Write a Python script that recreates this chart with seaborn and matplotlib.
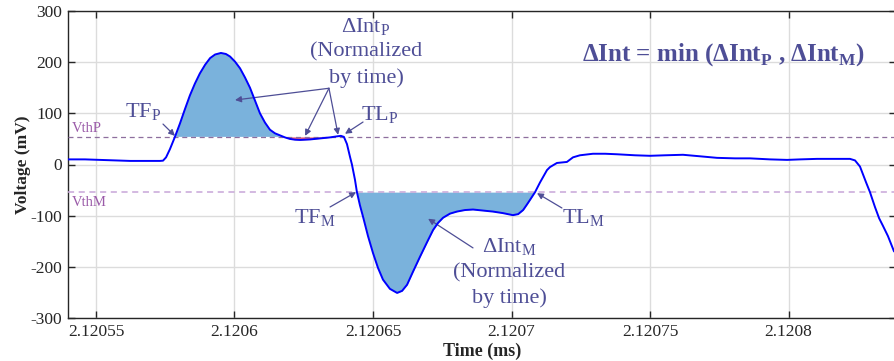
import numpy as np
import pandas as pd
import matplotlib
matplotlib.use("Agg")
import matplotlib.pyplot as plt
import seaborn as sns

# ---------------- data ----------------
time_ms = [
    2.1205399, 2.1205460, 2.1205514, 2.1205569, 2.1205623, 2.1205677, 2.1205731,
    2.1205742, 2.1205753, 2.1205767, 2.1205785, 2.1205803, 2.1205821, 2.1205839,
    2.1205857, 2.1205875, 2.1205894, 2.1205912, 2.1205930, 2.1205951, 2.1205969,
    2.1205984, 2.1206002, 2.1206020, 2.1206038, 2.1206056, 2.1206074, 2.1206092,
    2.1206110, 2.1206128, 2.1206146, 2.1206164, 2.1206182, 2.1206200, 2.1206218,
    2.1206237, 2.1206273, 2.1206309, 2.1206345, 2.1206370, 2.1206384, 2.1206395,
    2.1206406, 2.1206417, 2.1206424, 2.1206435, 2.1206442, 2.1206453, 2.1206464,
    2.1206482, 2.1206500, 2.1206518, 2.1206536, 2.1206561, 2.1206587, 2.1206605,
    2.1206623, 2.1206644, 2.1206670, 2.1206695, 2.1206717, 2.1206735, 2.1206753,
    2.1206778, 2.1206803, 2.1206832, 2.1206861, 2.1206897, 2.1206933, 2.1206969,
    2.1207005, 2.1207024, 2.1207042, 2.1207056, 2.1207067, 2.1207085, 2.1207103,
    2.1207128, 2.1207139, 2.1207164, 2.1207200, 2.1207222, 2.1207247, 2.1207294,
    2.1207338, 2.1207381, 2.1207446, 2.1207500, 2.1207554, 2.1207619, 2.1207681,
    2.1207742, 2.1207807, 2.1207861, 2.1207933, 2.1207995, 2.1208042, 2.1208103,
    2.1208168, 2.1208222, 2.1208240, 2.1208258, 2.1208280, 2.1208294, 2.1208312,
    2.1208327, 2.1208341, 2.1208359, 2.1208381,
]
voltage_mv = [
    10, 10, 9, 8, 7, 7, 7,
    7.5, 14, 30, 54, 80, 108, 135,
    158, 178, 195, 208, 215, 218, 216,
    211, 201, 188, 170, 150, 125, 100,
    82, 68, 61, 57, 53, 50, 48.5,
    48, 49, 51, 53, 55, 56, 54,
    40, 15, 0, -30, -54, -80, -102,
    -140, -173, -202, -225, -243, -251, -247,
    -235, -210, -180, -152, -128, -114, -104,
    -96, -92, -89, -88, -90, -92, -95,
    -99, -97, -89, -78, -69, -54, -35,
    -11, -5, 3, 5, 14, 18, 21,
    21, 20, 18, 17, 18, 19, 16,
    13, 12, 12, 10, 9, 10, 11,
    11, 11, 8, -4, -35, -54, -83,
    -105, -120, -140, -170,
]
vth_p = 54
vth_m = -54
t_fp, t_lp = 2.1205785, 2.1206399
t_fm, t_lm = 2.1206442, 2.1207085

x_ticks = [2.12055, 2.1206, 2.12065, 2.1207, 2.12075, 2.1208]
x_ticklabels = ["2.12055", "2.1206", "2.12065", "2.1207", "2.12075", "2.1208"]
y_ticks = [-300, -200, -100, 0, 100, 200, 300]

df = pd.DataFrame({"Time (ms)": time_ms, "Voltage (mV)": voltage_mv})

# ---------------- style ----------------
sns.set_style("ticks")
plt.rcParams["font.family"] = ["Liberation Serif", "DejaVu Serif"]
plt.rcParams["mathtext.fontset"] = "custom"
plt.rcParams["mathtext.rm"] = "Liberation Serif"
plt.rcParams["axes.unicode_minus"] = False

ann = "#4E4E96"
purple = "#9A5AA8"

fig = plt.figure(figsize=(8.94, 3.61), dpi=100)
W, H = 894, 361
ax = fig.add_axes([68 / W, 1 - 318 / H, (896 - 68) / W, (318 - 11) / H])

ax.grid(True, color="#dcdcdc", linewidth=1.0)
ax.set_axisbelow(True)

t = np.array(time_ms)
v = np.array(voltage_mv)

ax.fill_between(t, v, vth_p, where=(t >= t_fp) & (t <= t_lp) & (v >= vth_p),
                interpolate=True, color="#7AB2DC", linewidth=0, zorder=2)
ax.fill_between(t, v, vth_p, where=(t > t_fp) & (t < t_lp) & (v < vth_p),
                interpolate=True, color="#E8607A", linewidth=0, zorder=2)
ax.fill_between(t, v, vth_m, where=(t >= t_fm) & (t <= t_lm) & (v <= vth_m),
                interpolate=True, color="#7AB2DC", linewidth=0, zorder=2)

ax.axhline(vth_p, color="#8E6F9E", linestyle=(0, (4, 3)), linewidth=0.9, zorder=3)
ax.axhline(vth_m, color="#C7A6D8", linestyle=(0, (4, 3)), linewidth=1.1, zorder=3)

sns.lineplot(data=df, x="Time (ms)", y="Voltage (mV)", ax=ax, sort=False,
             estimator=None, color="#0000FF", linewidth=1.4, zorder=4)

ax.set_xlim(2.1205399, 2.1208388)
ax.set_ylim(-300, 300)
ax.set_xticks(x_ticks)
ax.set_xticklabels(x_ticklabels)
ax.set_yticks(y_ticks)
ax.tick_params(direction="in", length=5, width=1, top=True, right=True,
               labelsize=12.5, colors="#262626", pad=4)
for s in ax.spines.values():
    s.set_color("#262626")
    s.set_linewidth(1.0)

ax.set_xlabel("Time (ms)", fontsize=13, fontweight="bold", labelpad=2)
ax.set_ylabel("Voltage (mV)", fontsize=12.5, fontweight="bold", labelpad=0)

# threshold labels
ax.text(2.1205413, 71, "VthP", color=purple, fontsize=10.5, ha="left", va="center")
ax.text(2.1205413, -75, "VthM", color=purple, fontsize=10.5, ha="left", va="center")

arrow = dict(arrowstyle="-|>", color=ann, lw=0.9, mutation_scale=9,
             shrinkA=0, shrinkB=0)
fs = 16

# TF_P
ax.text(2.1205670, 102, r"TF$_\mathregular{P}$", color=ann, fontsize=fs,
        ha="center", va="center")
ax.annotate("", xy=(2.1205785, 56), xytext=(2.1205742, 79), arrowprops=arrow)
# TL_P
ax.text(2.1206525, 97, r"TL$_\mathregular{P}$", color=ann, fontsize=fs,
        ha="center", va="center")
ax.annotate("", xy=(2.1206399, 60), xytext=(2.1206464, 83), arrowprops=arrow)
# TF_M
ax.text(2.1206291, -104, r"TF$_\mathregular{M}$", color=ann, fontsize=fs,
        ha="center", va="center")
ax.annotate("", xy=(2.1206439, -54), xytext=(2.1206345, -83), arrowprops=arrow)
# TL_M
ax.text(2.1207258, -104, r"TL$_\mathregular{M}$", color=ann, fontsize=fs,
        ha="center", va="center")
ax.annotate("", xy=(2.1207092, -56), xytext=(2.1207182, -85), arrowprops=arrow)

# Delta Int_P
ax.text(2.1206475, 268, r"ΔInt$_\mathregular{P}$", color=ann, fontsize=fs,
        ha="center", va="center")
ax.text(2.1206475, 220, "(Normalized", color=ann, fontsize=fs, ha="center", va="center")
ax.text(2.1206475, 169, "by time)", color=ann, fontsize=fs, ha="center", va="center")
src = (2.1206341, 149)
for target in [(2.1206002, 126), (2.1206255, 56), (2.1206374, 58)]:
    ax.annotate("", xy=target, xytext=src, arrowprops=arrow)

# Delta Int_M
ax.text(2.1206991, -162, r"ΔInt$_\mathregular{M}$", color=ann, fontsize=fs,
        ha="center", va="center")
ax.text(2.1206991, -212, "(Normalized", color=ann, fontsize=fs, ha="center", va="center")
ax.text(2.1206991, -261, "by time)", color=ann, fontsize=fs, ha="center", va="center")
ax.annotate("", xy=(2.1206699, -106), xytext=(2.1206861, -163), arrowprops=arrow)

# formula
ax.text(2.1207764, 214,
        r"ΔInt = min (ΔInt$_\mathregular{P}$ , ΔInt$_\mathregular{M}$)",
        color=ann, fontsize=18, fontweight="bold", ha="center", va="center")

fig.savefig("out.png", dpi=100)
